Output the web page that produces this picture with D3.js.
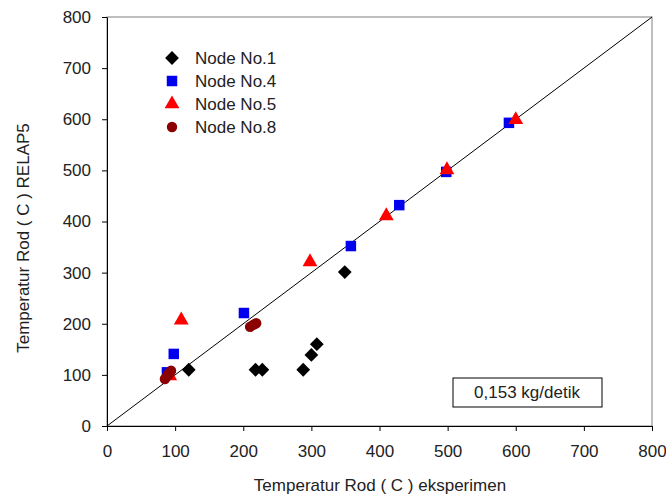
<!DOCTYPE html>
<html><head><meta charset="utf-8">
<script src="https://cdn.jsdelivr.net/npm/d3@7"></script>
<style>body{margin:0;background:#fff}text{font-family:"Liberation Sans",Arial,sans-serif}</style>
</head><body><svg id="c" width="666" height="499"></svg>
<script>
const xTicks = [0,100,200,300,400,500,600,700,800];
const yTicks = [0,100,200,300,400,500,600,700,800];
const node1 = [[120,110],[218,110],[228,110],[288,110],[300,139],[308,160],[349,301]];
const node4 = [[88,105],[98,141],[201,221],[358,352],[429,432],[498,497],[590,593]];
const node5 = [[92,98],[109,207],[298,321],[410,411],[499,501],[600,599]];
const node8 = [[85,92],[88,97],[91,103],[94,108],[90,100],[210,194],[215,198],[219,201]];
const legendLabels = ["Node No.1","Node No.4","Node No.5","Node No.8"];
const note = "0,153 kg/detik";

const FS = 17;
const svg = d3.select("#c");
const L=107,R=652,T=17,B=426;
const x = d3.scaleLinear().domain([0,800]).range([L,R]);
const y = d3.scaleLinear().domain([0,800]).range([B,T]);

svg.append("rect").attr("x",L).attr("y",T).attr("width",R-L).attr("height",B-T)
  .attr("fill","none").attr("stroke","#808080").attr("stroke-width",1);

const xa = svg.append("g").attr("transform",`translate(0,${B})`)
  .call(d3.axisBottom(x).tickValues(xTicks).tickSize(5).tickPadding(14).tickSizeOuter(0));
const ya = svg.append("g").attr("transform",`translate(${L},0)`)
  .call(d3.axisLeft(y).tickValues(yTicks).tickSize(5).tickPadding(11).tickSizeOuter(0));
[xa,ya].forEach(a=>{a.selectAll("path,line").attr("stroke","#000");
  a.selectAll("text").attr("font-size",FS).attr("fill","#222").style("font-family","'Liberation Sans',Arial,sans-serif");});

svg.append("line").attr("x1",x(0)).attr("y1",y(0)).attr("x2",x(800)).attr("y2",y(800))
  .attr("stroke","#000").attr("stroke-width",1);

const diamond = d3.symbol().type(d3.symbolSquare).size(95);
const square = d3.symbol().type(d3.symbolSquare).size(110);
const tri = d3.symbol().type(d3.symbolTriangle).size(95);
const circ = d3.symbol().type(d3.symbolCircle).size(85);
function draw(data, s, col, rot){
  svg.append("g").selectAll("path").data(data).join("path")
    .attr("d", s).attr("fill", col)
    .attr("transform", d=>`translate(${x(d[0])},${y(d[1])})${rot?" rotate(45)":""}`);
}
draw(node1, diamond, "#000", true);
draw(node4, square, "#0000ee", false);
draw(node5, tri, "#ff0000", false);
draw(node8, circ, "#8b0000", false);

const lg = svg.append("g");
const lsyms = [[diamond,"#000",true],[square,"#0000ee",false],[tri,"#ff0000",false],[circ,"#8b0000",false]];
legendLabels.forEach((t,i)=>{
  const yy = 58 + i*23;
  lg.append("path").attr("d", lsyms[i][0]).attr("fill", lsyms[i][1])
    .attr("transform", `translate(172,${yy})${lsyms[i][2]?" rotate(45)":""}`);
  lg.append("text").attr("x",195).attr("y",yy+6).attr("font-size",FS).attr("fill","#222").text(t);
});

svg.append("rect").attr("x",453).attr("y",378).attr("width",149).attr("height",29)
  .attr("fill","#fff").attr("stroke","#000");
svg.append("text").attr("x",527).attr("y",398).attr("text-anchor","middle")
  .attr("font-size",FS).attr("fill","#222").text(note);

svg.append("text").attr("x",380).attr("y",491).attr("text-anchor","middle")
  .attr("font-size",FS).attr("fill","#222").text("Temperatur Rod ( C ) eksperimen");
svg.append("text").attr("transform","translate(29,238) rotate(-90)").attr("text-anchor","middle")
  .attr("font-size",FS).attr("fill","#222").text("Temperatur Rod ( C ) RELAP5");
</script></body></html>
